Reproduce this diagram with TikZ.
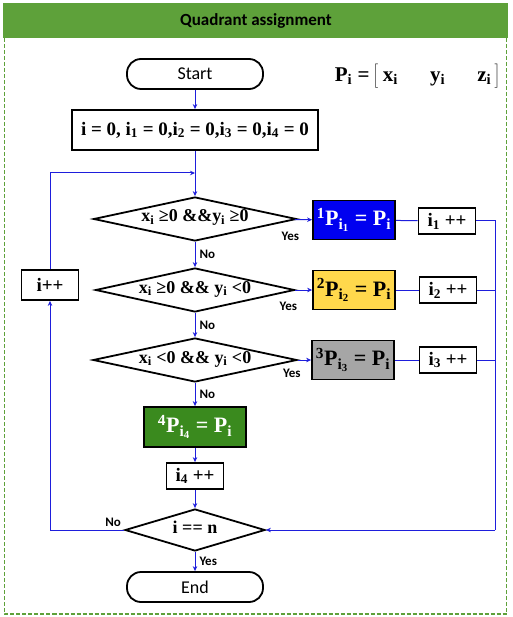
\documentclass[tikz,border=0pt]{standalone}
\usepackage{fontspec}
\setmainfont{Liberation Serif}
\newfontfamily\calibri{Carlito}
\usetikzlibrary{positioning,calc,arrows.meta,shapes.geometric}
\tikzset{>={Stealth[length=5pt,width=4.5pt]}}
\definecolor{bargreen}{RGB}{94,161,58}
\definecolor{qblue}{RGB}{0,0,240}
\definecolor{qyellow}{RGB}{255,216,76}
\definecolor{qgray}{RGB}{166,166,166}
\definecolor{qgreen}{RGB}{58,138,30}
\definecolor{flowblue}{RGB}{30,30,220}
\newcommand\fsz[1]{\fontsize{#1}{#1}\selectfont}
\newcommand\lo[1]{\textsubscript{#1}}
\newcommand\up[1]{\textsuperscript{#1}}
\newcommand\tallbrack[1]{$\left#1\vrule height 15pt depth 7pt width 0pt\right.$}

\begin{document}
\begin{tikzpicture}[x=1pt,y=-1pt,
  term/.style={draw,line width=1.8pt,rounded corners=14pt,minimum width=136pt,minimum height=30pt,inner sep=0pt,font=\calibri\fsz{18}},
  proc/.style={draw,line width=1.8pt,inner sep=0pt,font=\bfseries\fsz{19}},
  quad/.style={proc,minimum width=82pt,minimum height=39pt,font=\bfseries\fsz{22}},
  dec/.style={draw,diamond,aspect=4.6,line width=1.8pt,inner sep=0pt,text height=8pt,text depth=2pt,minimum height=44pt,font=\bfseries\fsz{18}},
  lbl/.style={font=\calibri\bfseries\fsz{13},inner sep=1pt},
  flow/.style={->,draw=flowblue,line width=1pt},
  link/.style={draw=flowblue,line width=1pt}]
\useasboundingbox[fill=white] (0,0) rectangle (512,617);
% frame and title
\fill[bargreen] (3,3) rectangle (508,38);
\node[font=\calibri\bfseries\fsz{17}] (title) at (256,21) {Quadrant assignment};
\draw[bargreen,line width=1.5pt,dash pattern=on 4pt off 2pt] (4.5,38) -- (4.5,614) -- (506.5,614) -- (506.5,38);
\node[font=\bfseries\fsz{21}] (pdef) at (418,76) {P\lo{i} =\,\tallbrack[\,x\lo{i}\quad\; y\lo{i}\quad\; z\lo{i}\,\tallbrack]};
% main column
\node[term] (start) at (195,74) {Start};
\node[proc,minimum width=246pt,minimum height=40pt] (init) at (195,130)
  {i = 0, i\lo{1} = 0,i\lo{2} = 0,i\lo{3} = 0,i\lo{4} = 0};
\coordinate (join) at (195,173);
\node[dec,minimum width=203pt] (d1) at (195,219) {x\lo{i} ≥0 \&\&y\lo{i} ≥0};
\node[dec,minimum width=199pt] (d2) at (195,290) {x\lo{i} ≥0 \&\& y\lo{i} <0};
\node[dec,minimum width=204pt] (d3) at (195,360) {x\lo{i} <0 \&\& y\lo{i} <0};
\node[quad,fill=qgreen,text=white,minimum width=102pt,minimum height=40pt] (q4) at (195,427) {\up{4}P\lo{i\lo{4}} = P\lo{i}};
\node[proc,minimum width=57pt,minimum height=26pt] (i4) at (195,476) {i\lo{4} ++};
\node[dec,aspect=3.3,minimum width=140pt,minimum height=42pt] (d5) at (195,530) {i == n};
\node[term] (end) at (195,587) {End};
% quadrant boxes and counters
\node[quad,fill=qblue,text=white] (q1) at (354,220) {\up{1}P\lo{i\lo{1}} = P\lo{i}};
\node[quad,fill=qyellow] (q2) at (354,290) {\up{2}P\lo{i\lo{2}} = P\lo{i}};
\node[quad,fill=qgray] (q3) at (353,360) {\up{3}P\lo{i\lo{3}} = P\lo{i}};
\node[proc,minimum width=57pt,minimum height=26pt] (c1) at (447,221) {i\lo{1} ++};
\node[proc,minimum width=57pt,minimum height=26pt] (c2) at (448,290) {i\lo{2} ++};
\node[proc,minimum width=57pt,minimum height=26pt] (c3) at (448,360) {i\lo{3} ++};
\node[proc,minimum width=57pt,minimum height=30pt] (inc) at (50,285) {i++};
\coordinate (rt) at (495,530);
% connectors
\draw[flow] (start) -- (init);
\draw[flow] (init) -- (d1);
\draw[flow] (d1) -- node[lbl,right=3pt] {No} (d2);
\draw[flow] (d2) -- node[lbl,right=3pt] {No} (d3);
\draw[flow] (d3) -- node[lbl,right=3pt] {No} (q4);
\draw[flow] (q4) -- (i4);
\draw[flow] (i4) -- (d5);
\draw[flow] (d5) -- node[lbl,right=3pt] {Yes} (end);
\draw[flow] (d1) -- (q1);
\draw[flow] (d2) -- (q2);
\draw[flow] (d3) -- (q3);
\node[lbl] (y1) at ($(d1.east)+(-7,17)$) {Yes};
\node[lbl] (y2) at ($(d2.east)+(-7,16)$) {Yes};
\node[lbl] (y3) at ($(d3.east)+(-6,13)$) {Yes};
\draw[link] (q1) -- (c1);
\draw[link] (q2) -- (c2);
\draw[link] (q3) -- (c3);
\draw[link] (c1) -| (rt);
\draw[link] (c2) -- (c2 -| rt);
\draw[link] (c3) -- (c3 -| rt);
\draw[flow] (rt) -- (d5);
\draw[flow] (d5) -| (inc);
\node[lbl,above left=2pt and 2pt] (no5) at (d5.west) {No};
\draw[flow] (inc) |- (join);
\end{tikzpicture}
\end{document}
